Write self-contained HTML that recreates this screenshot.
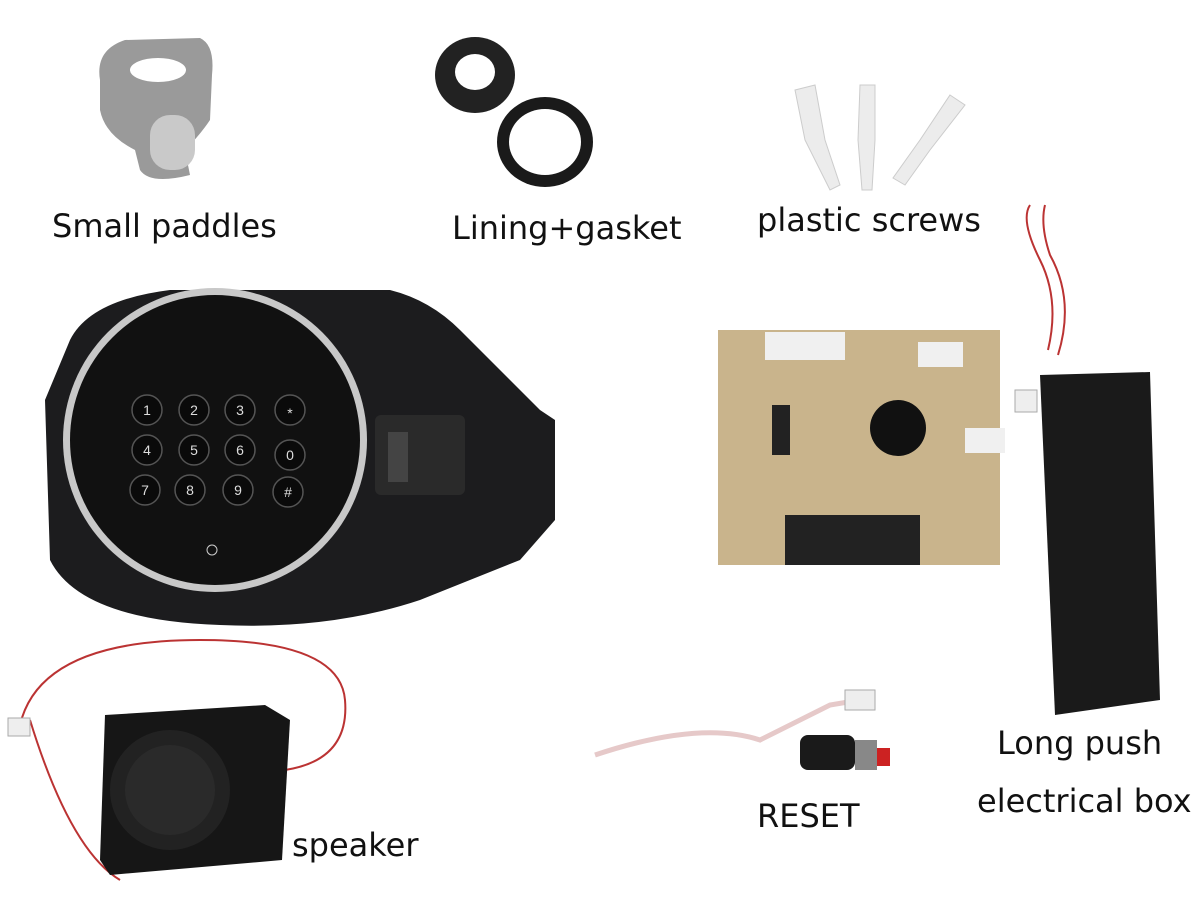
<!DOCTYPE html>
<html><head><meta charset="utf-8"><style>
body{margin:0;width:1200px;height:900px;background:#fff;position:relative;overflow:hidden;font-family:"DejaVu Sans",sans-serif}
.t{position:absolute;font-size:32px;color:#111;white-space:nowrap}
</style></head><body>
<svg width="1200" height="900" style="position:absolute;left:0;top:0">
<path d="M100 80 Q95 50 125 40 L200 38 Q215 45 212 75 L210 120 Q200 135 185 150 L190 175 Q150 185 140 170 L135 150 Q105 135 100 110Z" fill="#9a9a9a"/>
<ellipse cx="158" cy="70" rx="28" ry="12" fill="#fff"/>
<rect x="150" y="115" width="45" height="55" rx="20" fill="#c9c9c9"/>
<ellipse cx="475" cy="75" rx="40" ry="38" fill="#222"/><ellipse cx="475" cy="72" rx="20" ry="18" fill="#fff"/>
<ellipse cx="545" cy="142" rx="48" ry="45" fill="#1a1a1a"/><ellipse cx="545" cy="142" rx="36" ry="33" fill="#fff"/>
<g fill="#ececec" stroke="#ccc"><path d="M795 90 L815 85 L825 140 L840 185 L830 190 L805 140Z"/><path d="M860 85 L875 85 L875 140 L872 190 L862 190 L858 140Z"/><path d="M950 95 L965 105 L930 150 L905 185 L893 178 L920 140Z"/></g>
<path d="M70 340 Q90 300 170 290 L390 290 Q430 300 460 330 L540 410 L555 420 L555 520 L520 560 L420 600 Q330 630 220 625 Q80 620 50 560 L45 400Z" fill="#1c1c1e"/>
<circle cx="215" cy="440" r="152" fill="#c8c8c8"/><circle cx="215" cy="440" r="145" fill="#111"/>
<rect x="375" y="415" width="90" height="80" rx="6" fill="#2a2a2a"/><rect x="388" y="432" width="20" height="50" fill="#444"/>
<g fill="#0a0a0a" stroke="#555" stroke-width="1.5">
<circle cx="147" cy="410" r="15"/><circle cx="194" cy="410" r="15"/><circle cx="240" cy="410" r="15"/><circle cx="290" cy="410" r="15"/>
<circle cx="147" cy="450" r="15"/><circle cx="194" cy="450" r="15"/><circle cx="240" cy="450" r="15"/><circle cx="290" cy="455" r="15"/>
<circle cx="145" cy="490" r="15"/><circle cx="190" cy="490" r="15"/><circle cx="238" cy="490" r="15"/><circle cx="288" cy="492" r="15"/>
</g>
<g fill="#ddd" font-size="14" text-anchor="middle" font-family="Liberation Sans">
<text x="147" y="415">1</text><text x="194" y="415">2</text><text x="240" y="415">3</text><text x="290" y="418">*</text>
<text x="147" y="455">4</text><text x="194" y="455">5</text><text x="240" y="455">6</text><text x="290" y="460">0</text>
<text x="145" y="495">7</text><text x="190" y="495">8</text><text x="238" y="495">9</text><text x="288" y="497">#</text></g>
<circle cx="212" cy="550" r="5" fill="none" stroke="#ccc"/>
<rect x="718" y="330" width="282" height="235" fill="#c9b48c"/>
<rect x="785" y="515" width="135" height="50" fill="#222"/>
<circle cx="898" cy="428" r="28" fill="#111"/><rect x="772" y="405" width="18" height="50" fill="#222"/>
<rect x="765" y="332" width="80" height="28" fill="#f0f0f0"/><rect x="918" y="342" width="45" height="25" fill="#f0f0f0"/><rect x="965" y="428" width="40" height="25" fill="#f0f0f0"/>
<path d="M1048 350 Q1060 300 1040 260 Q1020 220 1030 205 M1058 355 Q1075 300 1050 255 Q1040 225 1045 205" stroke="#b33" stroke-width="2" fill="none"/>
<rect x="1015" y="390" width="22" height="22" fill="#eee" stroke="#aaa"/>
<path d="M1040 375 L1150 372 L1160 700 L1055 715Z" fill="#1a1a1a"/>
<path d="M20 725 Q40 640 200 640 Q340 640 345 700 Q350 760 285 770 M30 720 Q70 850 120 880" stroke="#b33" stroke-width="2" fill="none"/>
<rect x="8" y="718" width="22" height="18" fill="#eee" stroke="#aaa"/>
<path d="M105 715 L265 705 L290 720 L282 860 L110 875 L100 860Z" fill="#161616"/>
<circle cx="170" cy="790" r="60" fill="#222"/><circle cx="170" cy="790" r="45" fill="#2a2a2a"/>
<path d="M595 755 Q700 720 760 740 Q800 720 830 705 L860 700" stroke="#e6c9c9" stroke-width="5" fill="none"/>
<rect x="845" y="690" width="30" height="20" fill="#eee" stroke="#aaa"/>
<rect x="800" y="735" width="55" height="35" rx="8" fill="#1a1a1a"/><rect x="855" y="740" width="22" height="30" fill="#888"/><rect x="877" y="748" width="13" height="18" fill="#c22"/>
</svg>
<div class="t" style="left:52px;top:207px">Small paddles</div>
<div class="t" style="left:452px;top:209px">Lining+gasket</div>
<div class="t" style="left:757px;top:201px">plastic screws</div>
<div class="t" style="left:997px;top:724px">Long push</div>
<div class="t" style="left:977px;top:782px">electrical box</div>
<div class="t" style="left:757px;top:797px">RESET</div>
<div class="t" style="left:292px;top:826px">speaker</div>
</body></html>
